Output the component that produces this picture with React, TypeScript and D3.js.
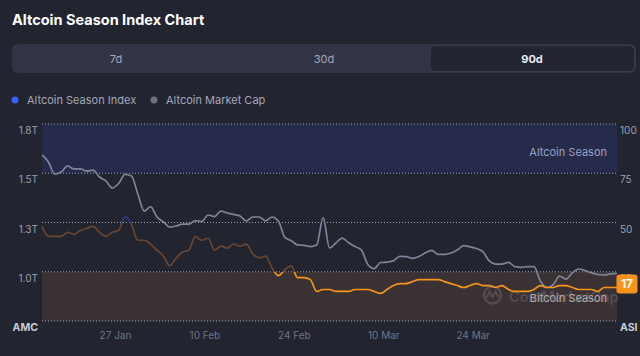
import React from "react";
import * as d3 from "d3";

const TITLE = "Altcoin Season Index Chart";
const TABS = ["7d", "30d", "90d"];
const ACTIVE_TAB = "90d";
const SERIES_NAMES = ["Altcoin Season Index", "Altcoin Market Cap"];

// daily points starting 15 Jan 2025 (noon)
const START = new Date(2025, 0, 15, 12);

// Altcoin market cap, trillions USD
const marketCap = [
  1.593, 1.557, 1.496, 1.506, 1.537, 1.522, 1.522, 1.511, 1.516, 1.481,
  1.461, 1.425, 1.448, 1.494, 1.486, 1.395, 1.308, 1.331, 1.278, 1.253,
  1.227, 1.232, 1.242, 1.242, 1.26, 1.255, 1.288, 1.28, 1.308, 1.298,
  1.291, 1.283, 1.258, 1.278, 1.278, 1.258, 1.278, 1.258, 1.174, 1.158,
  1.136, 1.134, 1.128, 1.136, 1.275, 1.121, 1.146, 1.171, 1.147, 1.128,
  1.11, 1.037, 1.016, 1.047, 1.049, 1.055, 1.078, 1.077, 1.068, 1.077,
  1.096, 1.108, 1.088, 1.088, 1.095, 1.11, 1.133, 1.126, 1.118, 1.102,
  1.055, 1.039, 1.039, 1.048, 1.026, 1.022, 1.026, 1.026, 0.953, 0.92,
  0.933, 0.978, 0.963, 0.994, 1.014, 1.006, 0.994, 0.986, 0.984, 0.989,
  0.992,
];

// Altcoin Season Index (0-100)
const asi = [
  48, 43, 43, 43, 45, 44, 46, 47, 48, 45,
  43, 45, 46, 53, 49, 41, 41, 39, 36, 33,
  28, 32, 35, 36, 43, 41, 42, 36, 38, 37,
  39, 38, 39, 34, 32, 33, 27, 23, 26, 28,
  22, 22, 21, 15, 16, 16, 15, 15, 15, 16,
  16, 16, 15, 14, 16, 18, 19, 19, 20, 21,
  21, 21, 21, 20, 19, 18, 17, 18, 19, 18,
  18, 17, 18, 16, 15, 15, 15, 16, 18, 17,
  17, 18, 18, 17, 16, 16, 16, 15, 17, 17,
  17,
];

const X_TICKS = [
  new Date(2025, 0, 27),
  new Date(2025, 1, 10),
  new Date(2025, 1, 24),
  new Date(2025, 2, 10),
  new Date(2025, 2, 24),
];
const CAP_TICKS = [0.75, 1.0, 1.25, 1.5, 1.75];
const ASI_TICKS = [0, 25, 50, 75, 100];
const ZONES = [
  { name: "Altcoin Season", from: 75, to: 100 },
  { name: "Bitcoin Season", from: 0, to: 25 },
];

const W = 640;
const H = 356;
const PL = 42;
const PR = 617;
const PT = 124;
const PB = 321;
const FONT = "Inter, 'Noto Sans', sans-serif";

export default function App() {
  const dates = asi.map((_, i) => d3.timeDay.offset(START, i));
  const x = d3.scaleTime().domain([dates[0], dates[dates.length - 1]]).range([PL, PR]);
  const yCap = d3.scaleLinear().domain([0.75, 1.75]).range([PB, PT]);
  const yAsi = d3.scaleLinear().domain([0, 100]).range([PB, PT]);
  const fmtDate = d3.timeFormat("%-d %b");

  const capLine = d3
    .line<number>()
    .x((_, i) => x(dates[i]))
    .y((d) => yCap(d))
    .curve(d3.curveMonotoneX)(marketCap) as string;
  const asiLine = d3
    .line<number>()
    .x((_, i) => x(dates[i]))
    .y((d) => yAsi(d))
    .curve(d3.curveMonotoneX)(asi) as string;

  const capLabel = (v: number, i: number) => (i === 0 ? "AMC" : d3.format(".1f")(v) + "T");
  const asiLabel = (v: number) => (v === 0 ? "ASI" : String(v));

  const last = asi[asi.length - 1];
  const lastY = yAsi(last);
  const tabW = (636 - 12) / TABS.length;

  return (
    <div style={{ position: "fixed", left: 0, top: 0 }}>
      <svg width={W} height={H} style={{ display: "block" }} fontFamily={FONT}>
        <defs>
          <linearGradient id="asiGrad" gradientUnits="userSpaceOnUse" x1={0} x2={0} y1={yAsi(100)} y2={yAsi(0)}>
            <stop offset="0" stopColor="#2b3a80" />
            <stop offset="0.5" stopColor="#2b3a80" />
            <stop offset="0.5" stopColor="#6a4530" />
            <stop offset="0.75" stopColor="#6a4530" />
            <stop offset="0.75" stopColor="#f7931a" />
            <stop offset="1" stopColor="#f7931a" />
          </linearGradient>
        </defs>
        <rect x={0} y={0} width={W} height={H} fill="#22242f" />
        <text x={12} y={25} fill="#ffffff" fontSize={14.5} fontWeight={700}>
          {TITLE}
        </text>

        {/* tabs */}
        <rect x={12} y={44} width={624} height={29} rx={6} fill="#323445" />
        {TABS.map((t, i) => {
          const active = t === ACTIVE_TAB;
          const tx = 12 + i * tabW;
          return (
            <g key={t}>
              {active && (
                <rect x={tx + 2} y={45.5} width={tabW - 3.5} height={26} rx={5} fill="#22242f" stroke="#3a3c4f" strokeWidth={1} />
              )}
              <text
                x={tx + tabW / 2}
                y={58.7}
                textAnchor="middle"
                dominantBaseline="central"
                fontSize={11}
                fontWeight={active ? 700 : 400}
                fill={active ? "#e8e9ef" : "#a3a6b8"}
              >
                {t}
              </text>
            </g>
          );
        })}

        {/* legend */}
        <circle cx={15} cy={100} r={3.5} fill="#3861fb" />
        <text x={27} y={100} dominantBaseline="central" fontSize={11} fill="#a4a7b9">
          {SERIES_NAMES[0]}
        </text>
        <circle cx={154} cy={100} r={3.5} fill="#6b7085" />
        <text x={166} y={100} dominantBaseline="central" fontSize={11} fill="#a4a7b9">
          {SERIES_NAMES[1]}
        </text>

        {/* zones */}
        {ZONES.map((z, i) => (
          <rect
            key={z.name}
            x={PL}
            y={yAsi(z.to)}
            width={PR - PL}
            height={yAsi(z.from) - yAsi(z.to)}
            fill={i === 0 ? "#262b4b" : "#3a3134"}
          />
        ))}

        {/* watermark */}
        <g opacity={0.13}>
          <circle cx={492.5} cy={295} r={8.5} fill="none" stroke="#ffffff" strokeWidth={2.4} />
          <path d="M486.5,298 L489.5,291.5 L492.5,297 L495.5,291.5 L498.5,297" fill="none" stroke="#ffffff" strokeWidth={2} />
          <text x={509} y={296} dominantBaseline="central" fontSize={14.5} fontWeight={600} fill="#ffffff">
            CoinMarketCap
          </text>
        </g>

        {/* grid */}
        {ASI_TICKS.map((t) => (
          <line
            key={t}
            x1={PL}
            x2={PR}
            y1={yAsi(t)}
            y2={yAsi(t)}
            stroke="#b4b7c6"
            strokeOpacity={0.85}
            strokeWidth={1}
            strokeDasharray="1 2"
          />
        ))}

        <text x={607} y={151.5} textAnchor="end" dominantBaseline="central" fontSize={11} fill="#9aa1c4">
          {ZONES[0].name}
        </text>
        <text x={607} y={298} textAnchor="end" dominantBaseline="central" fontSize={11} fill="#b3adb0">
          {ZONES[1].name}
        </text>

        {/* lines */}
        <path d={capLine} fill="none" stroke="#7d8499" strokeWidth={1.7} />
        <path d={asiLine} fill="none" stroke="url(#asiGrad)" strokeWidth={1.7} />

        {/* left axis */}
        {CAP_TICKS.map((t, i) => (
          <text
            key={t}
            x={38}
            y={yCap(t) + 6}
            textAnchor="end"
            dominantBaseline="central"
            fontSize={i === 0 ? 10.5 : 10}
            fontWeight={i === 0 ? 700 : 400}
            fill={i === 0 ? "#c9cbd6" : "#9da0b2"}
          >
            {capLabel(t, i)}
          </text>
        ))}

        {/* right axis */}
        {ASI_TICKS.map((t) => (
          <text
            key={t}
            x={620}
            y={yAsi(t) + 6}
            dominantBaseline="central"
            fontSize={t === 0 ? 10.5 : 10}
            fontWeight={t === 0 ? 700 : 400}
            fill={t === 0 ? "#c9cbd6" : "#9da0b2"}
          >
            {asiLabel(t)}
          </text>
        ))}

        {/* x axis */}
        {X_TICKS.map((d) => (
          <text key={+d} x={x(d)} y={335} textAnchor="middle" dominantBaseline="central" fontSize={10} fill="#6f7489">
            {fmtDate(d)}
          </text>
        ))}

        {/* current value badge */}
        <rect x={616.5} y={lastY - 13} width={21} height={19} rx={3} fill="#f7931a" />
        <text x={627} y={lastY - 3.5} textAnchor="middle" dominantBaseline="central" fontSize={11.5} fontWeight={700} fill="#ffffff">
          {last}
        </text>
      </svg>
    </div>
  );
}
